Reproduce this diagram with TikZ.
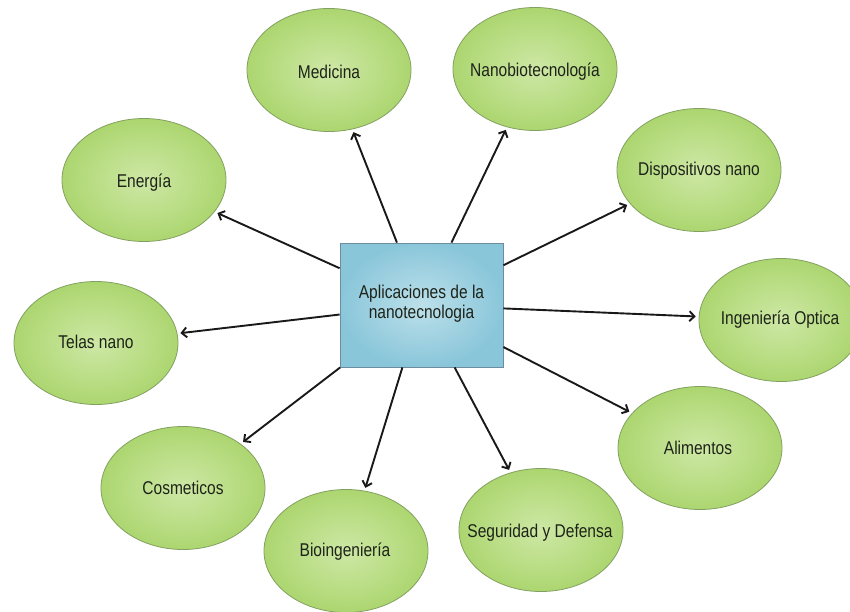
\documentclass[tikz,border=0pt]{standalone}
\usepackage{fontspec}
\usepackage{graphicx}
\setmainfont{Liberation Sans}
\usetikzlibrary{shapes.geometric,arrows.meta}
\definecolor{ellin}{RGB}{206,232,165}
\definecolor{ellout}{RGB}{172,214,112}
\definecolor{elldraw}{RGB}{130,160,95}
\definecolor{boxin}{RGB}{188,224,234}
\definecolor{boxout}{RGB}{138,198,218}
\definecolor{boxdraw}{RGB}{110,140,160}
\definecolor{txt}{RGB}{30,35,25}
\definecolor{arrcol}{RGB}{25,25,25}
\newcommand{\lbl}[1]{\scalebox{0.84}[1]{#1}}
\tikzset{
  bubble/.style={ellipse, draw=elldraw, line width=0.8pt, inner color=ellin, outer color=ellout,
    minimum width=164pt, minimum height=123pt, inner sep=0pt},
  lbltext/.style={text=txt, font=\fontsize{18.5}{20}\selectfont, inner sep=0pt},
  centerbox/.style={rectangle, draw=boxdraw, line width=0.8pt, inner color=boxin, outer color=boxout,
    minimum width=163pt, minimum height=124pt, inner sep=0pt},
  arr/.style={draw=arrcol, line width=1.9pt, -{Straight Barb[length=5pt,width=10pt]}, shorten >=3pt}
}
\begin{document}
\begin{tikzpicture}[x=1pt,y=-1pt]
\useasboundingbox (0,0) rectangle (850,612);
\node[centerbox] (box) at (421.5,305) {};
\node[lbltext, align=center] (boxT) at (421.5,304) {\lbl{Aplicaciones de la}\\\lbl{nanotecnologia}};

\node[bubble] (med) at (329,70) {};
\node[lbltext] (medT) at (329,72) {\lbl{Medicina}};
\node[bubble] (nano) at (535,69) {};
\node[lbltext] (nanoT) at (535,72) {\lbl{Nanobiotecnología}};
\node[bubble] (disp) at (699,170) {};
\node[lbltext] (dispT) at (699,171) {\lbl{Dispositivos nano}};
\node[bubble] (ing) at (781,320) {};
\node[lbltext] (ingT) at (780,320) {\lbl{Ingeniería Optica}};
\node[bubble] (ali) at (700,448) {};
\node[lbltext] (aliT) at (698,448) {\lbl{Alimentos}};
\node[bubble] (seg) at (541,530) {};
\node[lbltext] (segT) at (540,533) {\lbl{Seguridad y Defensa}};
\node[bubble] (bio) at (346,551) {};
\node[lbltext] (bioT) at (345,552) {\lbl{Bioingeniería}};
\node[bubble] (cos) at (183,488) {};
\node[lbltext] (cosT) at (183,488) {\lbl{Cosmeticos}};
\node[bubble] (tel) at (96,343) {};
\node[lbltext] (telT) at (96,342) {\lbl{Telas nano}};
\node[bubble] (ene) at (144,180) {};
\node[lbltext] (eneT) at (144,183) {\lbl{Energía}};

\foreach \t in {med,nano,disp,ing,ali,seg,bio,cos,tel,ene}
  \draw[arr] (box) -- (\t);
\end{tikzpicture}
\end{document}
